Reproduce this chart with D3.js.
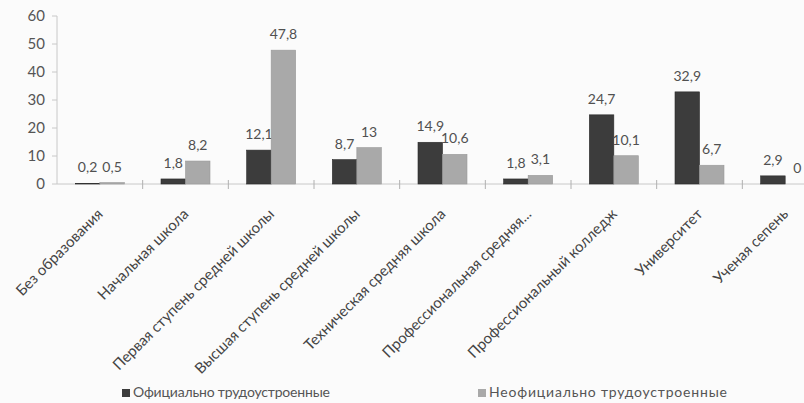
<!DOCTYPE html>
<html><head><meta charset="utf-8">
<script src="https://cdn.jsdelivr.net/npm/d3@7"></script>
<style>body{margin:0;background:#fbfbfb;} svg{display:block;font-family:Lato,"Open Sans",sans-serif;}</style>
</head><body><svg id="c" width="804" height="403"></svg>
<script>
const categories = ["Без образования","Начальная школа","Первая ступень средней школы","Высшая ступень средней школы","Техническая средняя школа","Профессиональная средняя...","Профессиональный колледж","Университет","Ученая сепень"];
const official = [0.2,1.8,12.1,8.7,14.9,1.8,24.7,32.9,2.9];
const unofficial = [0.5,8.2,47.8,13,10.6,3.1,10.1,6.7,0];
const seriesNames = ["Официально трудоустроенные","Неофициально трудоустроенные"];
const yTicks = [0,10,20,30,40,50,60];
const colors = ["#3c3c3c","#a9a9a9"];

const svg = d3.select("#c");
const x = d3.scaleBand().domain(categories).range([57,828]);
const y = d3.scaleLinear().domain([0,60]).range([184,16]);
const barW = 24.5;
const fmt = v => String(v).replace(".", ",");

// axes
svg.append("line").attr("x1",57).attr("x2",57).attr("y1",y(60)).attr("y2",y(0)).attr("stroke","#c8c8c8");
yTicks.forEach(t=>{
  svg.append("line").attr("x1",52).attr("x2",57).attr("y1",y(t)).attr("y2",y(t)).attr("stroke","#c8c8c8");
  svg.append("text").attr("x",45).attr("y",y(t)).attr("dy","0.35em").attr("text-anchor","end")
    .attr("font-size",15).attr("fill","#555").text(t);
});
svg.append("line").attr("x1",57).attr("x2",828).attr("y1",y(0)).attr("y2",y(0)).attr("stroke","#c8c8c8");
categories.forEach((c,i)=>{
  const bx = x(c)+x.bandwidth();
  svg.append("line").attr("x1",bx).attr("x2",bx).attr("y1",y(0)-4).attr("y2",y(0)+5).attr("stroke","#b0b0b0");
});

const series = [official, unofficial];
series.forEach((vals,s)=>{
  const g = svg.append("g");
  g.selectAll("rect").data(vals).join("rect")
    .attr("x",(d,i)=>x(categories[i])+x.bandwidth()/2 - barW + s*barW)
    .attr("width",barW)
    .attr("y",d=>y(d)).attr("height",d=>y(0)-y(d))
    .attr("fill",colors[s]).attr("stroke", s===0?"#2a2a2a":"#999").attr("stroke-width",0.6);
  g.selectAll("text").data(vals).join("text")
    .attr("x",(d,i)=>x(categories[i])+x.bandwidth()/2 - barW/2 + s*barW)
    .attr("y",d=>y(d)-11).attr("text-anchor","middle")
    .attr("font-size",14).attr("fill","#505050").text(d=>fmt(d));
});

// category labels
categories.forEach(c=>{
  const cx = x(c)+x.bandwidth()/2 + 4;
  svg.append("text").attr("transform",`translate(${cx},215) rotate(-45)`)
    .attr("text-anchor","end").attr("font-size",15).attr("fill","#444").text(c);
});

// legend
const leg = [{x:122,w:197},{x:478,w:238}];
seriesNames.forEach((n,i)=>{
  svg.append("rect").attr("x",leg[i].x).attr("y",389).attr("width",8).attr("height",8).attr("fill",colors[i]);
  svg.append("text").attr("x",leg[i].x+11).attr("y",397).attr("font-size",14).attr("fill","#555")
    .attr("textLength",leg[i].w).attr("lengthAdjust","spacing").text(n);
});
</script></body></html>
